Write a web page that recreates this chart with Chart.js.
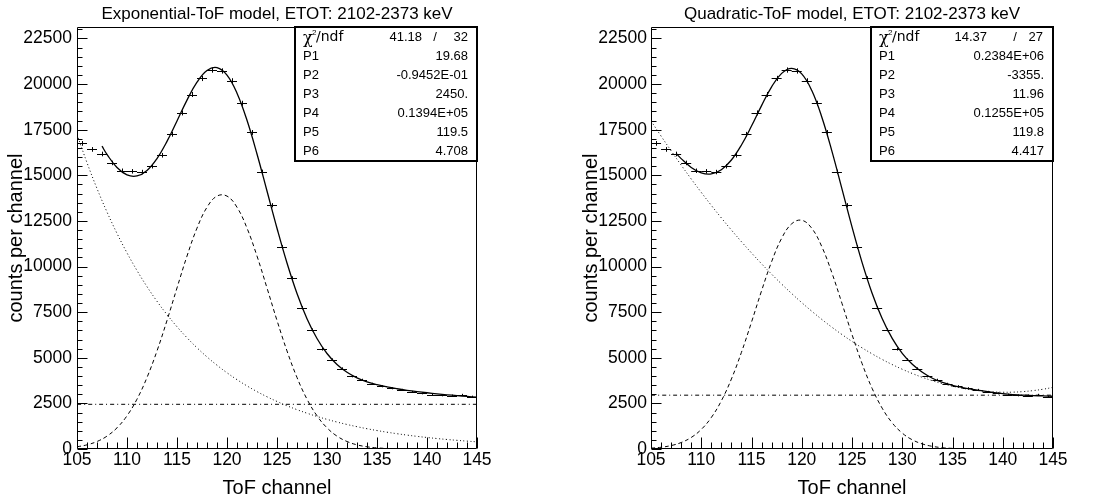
<!DOCTYPE html>
<html>
<head>
<meta charset="utf-8">
<title>ToF fits</title>
<script src="https://cdn.jsdelivr.net/npm/chart.js@4.4.1/dist/chart.umd.min.js"></script>
<style>
  body { margin: 0; background: #fff; width: 1099px; height: 504px; overflow: hidden; position: relative; }
  canvas { position: absolute; top: 0; }
</style>
</head>
<body>
<canvas id="expChart" width="549" height="504" style="left:0"></canvas>
<canvas id="quadChart" width="549" height="504" style="left:550px"></canvas>
<script>
// measured spectrum (same in both panels)
const channels = [105.5, 106.5, 107.5, 108.5, 109.5, 110.5, 111.5, 112.5, 113.5, 114.5,
                  115.5, 116.5, 117.5, 118.5, 119.5, 120.5, 121.5, 122.5, 123.5, 124.5,
                  125.5, 126.5, 127.5, 128.5, 129.5, 130.5, 131.5, 132.5, 133.5, 134.5,
                  135.5, 136.5, 137.5, 138.5, 139.5, 140.5, 141.5, 142.5, 143.5, 144.5];
const counts = [16750, 16420, 16170, 15680, 15250, 15220, 15180, 15500, 16100, 17250,
                18420, 19430, 20310, 20770, 20720, 20180, 18950, 17350, 15190, 13360,
                11070, 9370, 7740, 6530, 5470, 4900, 4410, 3990, 3790, 3570,
                3440, 3330, 3240, 3130, 3050, 2980, 2940, 2930, 2970, 2870];
const countErrors = [129, 128, 127, 125, 123, 123, 123, 124, 127, 131,
                     136, 139, 143, 144, 144, 142, 138, 132, 123, 116,
                     105, 97, 88, 81, 74, 70, 66, 63, 62, 60,
                     59, 58, 57, 56, 55, 55, 54, 54, 54, 54];

const xTickValues = [105, 110, 115, 120, 125, 130, 135, 140, 145];
const yTickValues = [0, 2500, 5000, 7500, 10000, 12500, 15000, 17500, 20000, 22500];

// fit curves
const curveX = [105, 106, 107, 108, 109, 110, 111, 112, 113, 114, 115, 116, 117, 118, 119, 120,
                121, 122, 123, 124, 125, 126, 127, 128, 129, 130, 131, 132, 133, 134, 135,
                136, 137, 138, 139, 140, 141, 142, 143, 144, 145];
const fitRangeX = [107.5, 108, 109, 110, 111, 112, 113, 114, 115, 116, 117, 118, 119, 120,
                   121, 122, 123, 124, 125, 126, 127, 128, 129, 130, 131, 132, 133, 134, 135,
                   136, 137, 138, 139, 140, 141, 142, 143, 144, 145];
const constX = [105, 145];

const expBackground = [17247, 15692, 14276, 12989, 11817, 10751, 9782, 8899, 8097, 7367, 6702,
                       6098, 5548, 5048, 4592, 4178, 3801, 3458, 3146, 2863, 2605, 2370, 2156,
                       1962, 1785, 1624, 1477, 1344, 1223, 1112, 1012, 921, 838, 762, 693, 631,
                       574, 522, 475, 432, 393];
const expPeak = [121, 228, 411, 706, 1160, 1820, 2732, 3919, 5375, 7045, 8828, 10575, 12107,
                 13250, 13862, 13862, 13250, 12107, 10575, 8828, 7045, 5375, 3919, 2732, 1820,
                 1160, 706, 411, 228, 121, 62, 30, 14, 6, 3, 1, 0, 0, 0, 0, 0];
const expTotal = [16600, 16145, 15427, 15021, 14964, 15268, 15922, 16862, 17980, 19123, 20105,
                  20748, 20904, 20490, 19501, 18015, 16171, 14141, 12100, 10195, 8525, 7144,
                  6055, 5234, 4633, 4205, 3901, 3683, 3524, 3401, 3302, 3218, 3146, 3082, 3024,
                  2972, 2925, 2882, 2843];
const expConstant = [2450, 2450];

const quadBackground = [17984, 17153, 16345, 15562, 14802, 14066, 13354, 12666, 12002, 11362,
                        10746, 10153, 9585, 9040, 8520, 8023, 7550, 7101, 6676, 6275, 5898, 5545,
                        5216, 4910, 4629, 4371, 4138, 3928, 3742, 3580, 3442, 3328, 3238, 3171,
                        3129, 3111, 3116, 3145, 3199, 3276, 3377];
const quadPeak = [46, 95, 188, 354, 632, 1071, 1725, 2640, 3837, 5300, 6954, 8668, 10266, 11549,
                  12345, 12537, 12096, 11086, 9653, 7986, 6276, 4686, 3324, 2240, 1434, 872, 504,
                  277, 145, 71, 34, 15, 6, 2, 1, 0, 0, 0, 0, 0, 0];
const quadTotal = [16200, 15915, 15434, 15137, 15079, 15306, 15839, 16662, 17700, 18821, 19851,
                   20589, 20865, 20560, 19646, 18187, 16329, 14261, 12174, 10231, 8540, 7150,
                   6063, 5243, 4642, 4205, 3880, 3650, 3490, 3370, 3270, 3180, 3100, 3030, 2980,
                   2950, 2930, 2910, 2890];
const quadConstant = [2950, 2950];

const expStats = [['P1', '19.68'], ['P2', '-0.9452E-01'], ['P3', '2450.'],
                  ['P4', '0.1394E+05'], ['P5', '119.5'], ['P6', '4.708']];
const quadStats = [['P1', '0.2384E+06'], ['P2', '-3355.'], ['P3', '11.96'],
                   ['P4', '0.1255E+05'], ['P5', '119.8'], ['P6', '4.417']];

Chart.defaults.font.family = '"Liberation Sans", Arial, Helvetica, sans-serif';
Chart.defaults.color = '#000';

function pts(xs, ys) {
    return xs.map((x, i) => ({ x: x, y: ys[i] }));
}

// ROOT-like frame: inside ticks, error crosses, stats box
const rootFrame = {
    id: 'rootFrame',
    afterDatasetsDraw(chart, args, opts) {
        const ctx = chart.ctx;
        const a = chart.chartArea;
        const x = chart.scales.x, y = chart.scales.y;
        ctx.save();
        ctx.strokeStyle = '#000';
        ctx.lineWidth = 1;

        // data points with errors
        const ds = chart.data.datasets[0];
        ctx.beginPath();
        ds.data.forEach((p, i) => {
            const px = Math.round(x.getPixelForValue(p.x)) + 0.5;
            const py = Math.round(y.getPixelForValue(p.y)) + 0.5;
            ctx.moveTo(x.getPixelForValue(p.x - 0.5), py);
            ctx.lineTo(x.getPixelForValue(p.x + 0.5), py);
            ctx.moveTo(px, y.getPixelForValue(p.y + opts.errors[i]));
            ctx.lineTo(px, y.getPixelForValue(p.y - opts.errors[i]));
        });
        ctx.stroke();

        // frame
        const l = Math.round(a.left) + 0.5, r = Math.round(a.right) - 0.5;
        const t = Math.round(a.top) + 0.5, b = Math.round(a.bottom) - 0.5;
        ctx.beginPath();
        ctx.rect(l, t, r - l, b - t);
        ctx.stroke();

        // ticks, drawn inside the frame
        ctx.beginPath();
        for (let v = x.min; v <= x.max + 1e-6; v += 1) {
            const px = Math.round(x.getPixelForValue(v)) + 0.5;
            const len = (Math.round(v) % 5 === 0) ? 11 : 6;
            ctx.moveTo(px, b);
            ctx.lineTo(px, b - len);
        }
        for (let v = 0; v <= y.max; v += 500) {
            const py = Math.round(y.getPixelForValue(v)) + 0.5;
            const len = (v % 2500 === 0) ? 10 : 5;
            ctx.moveTo(l, py);
            ctx.lineTo(l + len, py);
        }
        ctx.stroke();
        ctx.restore();
    },
    afterDraw(chart, args, opts) {
        const ctx = chart.ctx;
        const a = chart.chartArea;
        const w = 182, h = 134;
        const bx = a.right - w, by = a.top;
        ctx.save();
        ctx.fillStyle = '#fff';
        ctx.fillRect(bx, by, w, h);
        ctx.strokeStyle = '#000';
        ctx.lineWidth = 2;
        ctx.strokeRect(bx, by, w, h);

        ctx.fillStyle = '#000';
        ctx.textBaseline = 'middle';
        const font = '13px "Liberation Sans", Arial, sans-serif';
        const row0 = by + 10, rowH = 19;

        // chi2 / ndf line
        ctx.font = '16px "DejaVu Serif", serif';
        ctx.textAlign = 'left';
        ctx.fillText('\u03c7', bx + 8, row0 + 2);
        ctx.font = '8px "Liberation Sans", Arial, sans-serif';
        ctx.fillText('2', bx + 17, row0 - 4);
        ctx.font = '14px "DejaVu Sans", sans-serif';
        ctx.fillText('/ndf', bx + 21, row0);
        ctx.font = font;
        ctx.textAlign = 'right';
        ctx.fillText(opts.chi2, a.right - opts.chiPos[0], row0);
        ctx.fillText(opts.ndf, a.right - opts.chiPos[2], row0);
        ctx.textAlign = 'center';
        ctx.fillText('/', a.right - opts.chiPos[1], row0);

        opts.stats.forEach((s, i) => {
            const ty = row0 + (i + 1) * rowH;
            ctx.textAlign = 'left';
            ctx.fillText(s[0], bx + 8, ty);
            ctx.textAlign = 'right';
            ctx.fillText(s[1], a.right - 9, ty);
        });
        ctx.restore();
    }
};

function makeChart(id, cfg) {
    const line = (data, dash, width) => ({
        data: data,
        showLine: true,
        borderColor: '#000',
        borderWidth: width,
        borderDash: dash,
        pointRadius: 0,
        tension: 0.4,
        fill: false
    });
    return new Chart(document.getElementById(id), {
        type: 'scatter',
        data: {
            datasets: [
                { data: pts(channels, counts), pointRadius: 0, showLine: false },
                line(pts(curveX, cfg.background), [1, 2.5], 1),
                line(pts(curveX, cfg.peak), [4, 3], 1),
                line(pts(constX, cfg.constant), [4, 3, 1, 3], 1),
                line(pts(fitRangeX, cfg.total), [], 1.3)
            ]
        },
        options: {
            responsive: false,
            animation: false,
            devicePixelRatio: 1,
            layout: { padding: { left: cfg.padLeft, right: cfg.padRight, top: 0, bottom: 0 } },
            plugins: {
                legend: { display: false },
                tooltip: { enabled: false },
                title: {
                    display: true,
                    text: cfg.title,
                    fullSize: false,
                    color: '#000',
                    font: { size: 17, weight: 'normal' },
                    padding: { top: 4, bottom: 2.6 }
                },
                rootFrame: {
                    errors: countErrors,
                    stats: cfg.stats,
                    chi2: cfg.chi2,
                    ndf: cfg.ndf,
                    chiPos: cfg.chiPos
                }
            },
            scales: {
                x: {
                    type: 'linear',
                    min: 105,
                    max: 145,
                    grid: { display: false, drawTicks: false },
                    border: { display: false },
                    afterBuildTicks: s => { s.ticks = xTickValues.map(v => ({ value: v })); },
                    ticks: { padding: 1, font: { size: 17.5 }, autoSkip: false, callback: v => String(v) },
                    title: { display: true, text: 'ToF channel', font: { size: 20 }, padding: { top: 0, bottom: 4 } },
                    afterFit: s => { s.height = 55; }
                },
                y: {
                    min: 0,
                    max: 23130,
                    grid: { display: false, drawTicks: false },
                    border: { display: false },
                    afterBuildTicks: s => { s.ticks = yTickValues.map(v => ({ value: v })); },
                    ticks: { padding: cfg.tickPad, font: { size: 17.5 }, autoSkip: false, callback: v => String(v) },
                    title: { display: true, text: 'counts per channel', font: { size: 20 }, padding: { top: 4, bottom: 0 } },
                    afterFit: s => { s.width = cfg.axisWidth; }
                }
            }
        },
        plugins: [rootFrame]
    });
}

makeChart('expChart', {
    title: 'Exponential-ToF model, ETOT: 2102-2373 keV',
    background: expBackground,
    peak: expPeak,
    total: expTotal,
    constant: expConstant,
    stats: expStats,
    chi2: '41.18', ndf: '32', chiPos: [55, 42, 9],
    padLeft: 0, padRight: 72, axisWidth: 77, tickPad: 5
});

makeChart('quadChart', {
    title: 'Quadratic-ToF model, ETOT: 2102-2373 keV',
    background: quadBackground,
    peak: quadPeak,
    total: quadTotal,
    constant: quadConstant,
    stats: quadStats,
    chi2: '14.37', ndf: '27', chiPos: [66, 38, 10],
    padLeft: 25, padRight: 46, axisWidth: 76, tickPad: 4
});
</script>
</body>
</html>
